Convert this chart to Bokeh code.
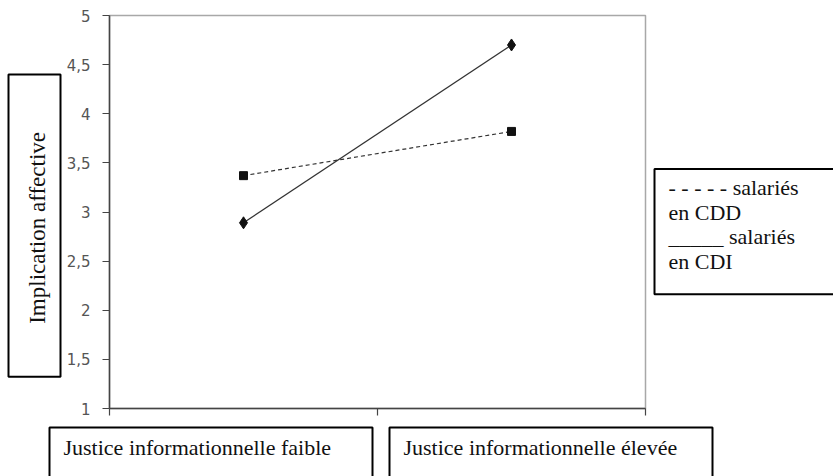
from bokeh.plotting import figure
from bokeh.models import Range1d, FixedTicker
from bokeh.layouts import row, column
from bokeh.core.properties import value
from bokeh.embed import file_html
from bokeh.resources import INLINE
import math

# ---------------- data ----------------
CATEGORIES = ["Justice informationnelle faible", "Justice informationnelle élevée"]
CDD = [3.37, 3.82]   # salariés en CDD (dashed, squares)
CDI = [2.89, 4.70]   # salariés en CDI (solid, diamonds)
Y_TICKS = [1, 1.5, 2, 2.5, 3, 3.5, 4, 4.5, 5]
Y_TICK_LABELS = ["1", "1,5", "2", "2,5", "3", "3,5", "4", "4,5", "5"]
Y_LABEL = "Implication affective"
LEGEND_LINES = ["- - - - - salariés", "en CDD", " _____ salariés", "en CDI"]

# ---------------- layout (canvas pixels) ----------------
W, H = 833, 476
TOP_H = 420          # height of the upper row
LEFT_W = 62          # width of the y-label panel
MAIN_R = 650         # right edge of the main figure
FL, FR, FT, FB = 109, 645, 15, 408   # frame edges
DY = -9              # baseline correction for horizontal texts

SERIF = value("'Liberation Serif', 'Times New Roman', serif")
INK = "#111111"


def panel(w, h):
    f = figure(width=w, height=h, output_backend="svg", toolbar_location=None,
               x_range=Range1d(0, w), y_range=Range1d(h, 0),
               x_axis_type=None, y_axis_type=None,
               min_border=0, min_border_left=0, min_border_right=0,
               min_border_top=0, min_border_bottom=0)
    f.xgrid.visible = False
    f.ygrid.visible = False
    f.outline_line_color = None
    f.background_fill_color = "white"
    f.border_fill_color = "white"
    return f


def box(f, l, t, r, b):
    f.quad(left=[l], right=[r], top=[t], bottom=[b], fill_alpha=0,
           line_color="black", line_width=2)


def txt(f, s, x, y, angle=0, align="left", baseline="alphabetic", size="22px"):
    f.text(x=[x], y=[y], text=[s], angle=angle, text_align=align,
           text_baseline=baseline, text_font=SERIF, text_font_size=value(size),
           text_color=INK)


# ---------------- main chart ----------------
X = [i + 0.5 for i in range(len(CATEGORIES))]

p = figure(width=MAIN_R - LEFT_W, height=TOP_H, output_backend="svg", toolbar_location=None,
           x_range=Range1d(0, len(CATEGORIES)), y_range=Range1d(Y_TICKS[0], Y_TICKS[-1]),
           min_border_left=FL - LEFT_W, min_border_right=MAIN_R - FR,
           min_border_top=FT, min_border_bottom=TOP_H - FB)
p.background_fill_color = "white"
p.border_fill_color = "white"
p.outline_line_color = "#a8a8a8"
p.outline_line_width = 1.5
p.xgrid.visible = False
p.ygrid.visible = False

axis_col = "#444444"
p.yaxis.ticker = FixedTicker(ticks=Y_TICKS)
p.yaxis.major_label_overrides = dict(zip(Y_TICKS, Y_TICK_LABELS))
p.yaxis.minor_tick_line_color = None
p.yaxis.major_tick_in = 0
p.yaxis.major_tick_out = 7
p.yaxis.major_label_standoff = 12
p.yaxis.major_label_text_font = "DejaVu Sans"
p.yaxis.major_label_text_font_size = "15px"
p.yaxis.major_label_text_color = "#555555"
p.yaxis.axis_line_color = axis_col
p.yaxis.axis_line_width = 1.5
p.yaxis.major_tick_line_color = axis_col
p.yaxis.major_tick_line_width = 1.2

p.xaxis.ticker = FixedTicker(ticks=list(range(len(CATEGORIES) + 1)))
p.xaxis.major_label_text_font_size = "1px"
p.xaxis.major_label_text_color = None
p.xaxis.major_label_standoff = 0
p.xaxis.minor_tick_line_color = None
p.xaxis.major_tick_in = 0
p.xaxis.major_tick_out = 7
p.xaxis.axis_line_color = axis_col
p.xaxis.axis_line_width = 1.5
p.xaxis.major_tick_line_color = axis_col
p.xaxis.major_tick_line_width = 1.2

p.line(X, CDD, line_color="#333333", line_width=1.2, line_dash="4 3")
p.scatter(X, CDD, marker="square", size=8, fill_color=INK, line_color=INK)
p.line(X, CDI, line_color="#333333", line_width=1.2)
p.scatter(X, CDI, marker="diamond", size=12, fill_color=INK, line_color=INK)

# ---------------- y-label panel ----------------
left = panel(LEFT_W, TOP_H)
box(left, 8, 63, 60, 386)
txt(left, Y_LABEL, 37, 227, angle=math.pi / 2, align="center", baseline="middle", size="23px")

# ---------------- legend panel ----------------
rw = W - MAIN_R
right = panel(rw, TOP_H)
box(right, 654 - MAIN_R, 164, rw + 12, 298)
for i, s in enumerate(LEGEND_LINES):
    txt(right, s, 668 - MAIN_R, 193 + 26.3 * i + DY)

# ---------------- category label panel ----------------
bh = H - TOP_H
bottom = panel(W, bh)
for i, name in enumerate(CATEGORIES):
    l = 49 + i * 340
    box(bottom, l, 427 - TOP_H, l + 323, bh + 12)
    txt(bottom, name, l + 14, 456 - TOP_H + DY)

layout = column(row(left, p, right, spacing=0), bottom, spacing=0)
open("out.html", "w").write(file_html(layout, INLINE))
